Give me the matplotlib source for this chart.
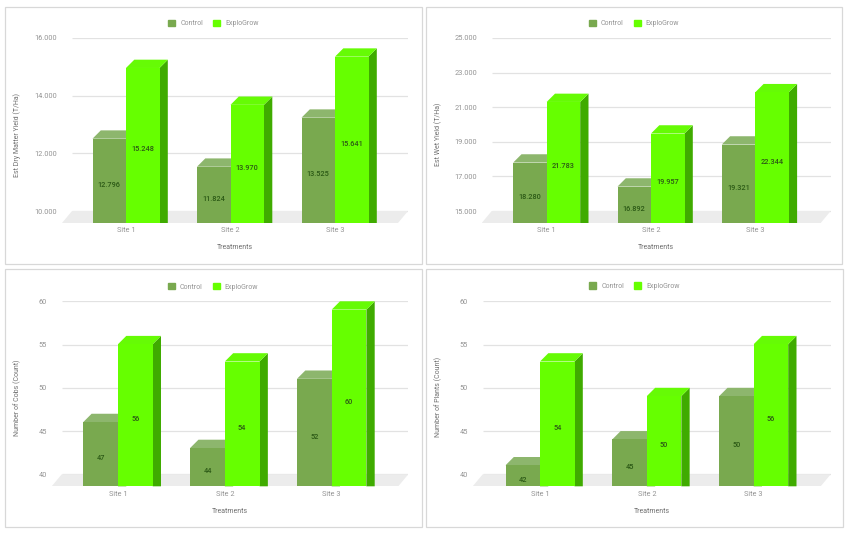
import matplotlib
matplotlib.use('Agg')
import matplotlib.pyplot as plt
from matplotlib.patches import Patch, Rectangle

plt.rcParams['font.family'] = ['Roboto', 'DejaVu Sans']

W, H = 850, 533

# Data
sites = ['Site 1', 'Site 2', 'Site 3']
series_names = ['Control', 'ExploGrow']

dry_control = [12796, 11824, 13525]
dry_explo = [15248, 13970, 15641]
dry_ticks = [10000, 12000, 14000, 16000]

wet_control = [18280, 16892, 19321]
wet_explo = [21783, 19957, 22344]
wet_ticks = [15000, 17000, 19000, 21000, 23000, 25000]

cobs_control = [47, 44, 52]
cobs_explo = [56, 54, 60]
plants_control = [42, 45, 50]
plants_explo = [54, 50, 56]
count_ticks = [40, 45, 50, 55, 60]

# Colours
c_control = '#79a94f'
c_control_top = '#8db66d'
c_explo = '#66ff00'
c_explo_top = '#66fb05'
c_explo_side = '#3fab00'
c_floor = '#ececec'
c_grid = '#e2e2e2'
c_border = '#d8d8d8'
c_tick = '#949494'
c_title = '#707070'
c_value = '#2c5a16'

# Size of the fake 3D effect, in pixels
BAR_DEPTH = 8.3
FLOOR_DX = 10
FLOOR_DY = 12


def fmt(v):
    return f'{v:,}'.replace(',', '.')


def draw_panel(box, floor_left, grid_right, tick_top, tick_bottom, centers, half,
               ylabel_x, ylabel_y, legend_xy, ylabel, control, explo, ticks):
    # all layout numbers are pixels of the final image, y going down
    floor_y = tick_bottom + FLOOR_DY
    fig.add_artist(Rectangle((box[0] / W, 1 - box[3] / H), (box[2] - box[0]) / W,
                             (box[3] - box[1]) / H, transform=fig.transFigure,
                             facecolor='white', edgecolor=c_border, linewidth=0.9, zorder=-1))

    ax = fig.add_axes([floor_left / W, 1 - floor_y / H, (grid_right - floor_left) / W,
                       (floor_y - tick_top) / H])

    spacing = (centers[2] - centers[0]) / 2
    px_y = (ticks[-1] - ticks[0]) / (tick_bottom - tick_top)
    dx = BAR_DEPTH / spacing
    dy = BAR_DEPTH * px_y
    bottom = ticks[0] - FLOOR_DY * px_y
    w = half / spacing

    ax.set_xlim((floor_left - centers[0]) / spacing, (grid_right - centers[0]) / spacing)
    ax.set_ylim(bottom, ticks[-1])

    # grid lines sit on the back wall, so they start after the floor offset
    grid_start = FLOOR_DX / (grid_right - floor_left)
    ax.hlines(ticks, grid_start, 1, transform=ax.get_yaxis_transform(),
              color=c_grid, linewidth=0.9, zorder=1)

    x0, x1 = ax.get_xlim()
    fdx = FLOOR_DX / spacing
    ax.fill([x0, x0 + fdx, x1, x1 - fdx], [bottom, ticks[0], ticks[0], bottom],
            color=c_floor, linewidth=0, zorder=2)

    z = 3
    for off, values, front, top in [(-w / 2, control, c_control, c_control_top),
                                    (w / 2, explo, c_explo, c_explo_top)]:
        for i, v in enumerate(values):
            left = i + off - w / 2
            right = i + off + w / 2
            # side face runs straight down to the front edge of the floor
            ax.fill([right, right + dx, right + dx, right],
                    [bottom, bottom, v, v - dy],
                    color=c_explo_side, linewidth=0, zorder=z, clip_on=False)
            ax.fill([left, left + dx, right + dx, right],
                    [v - dy, v, v, v - dy],
                    color=top, linewidth=0, zorder=z, clip_on=False)
        ax.bar([i + off for i in range(3)], [v - dy - bottom for v in values], width=w,
               bottom=bottom, color=front, linewidth=0, zorder=z + 1)
        for i, v in enumerate(values):
            mid = (v - dy + bottom) / 2 - 4 * px_y
            ax.text(i + off, mid, fmt(v), ha='center', va='center', fontsize=5.3,
                    color=c_value, fontweight='medium', zorder=8)
        z += 2

    ax.set_xticks(range(3), sites)
    ax.set_yticks(ticks, [fmt(t) for t in ticks])
    ax.tick_params(axis='both', length=0, labelsize=5.3, labelcolor=c_tick)
    ax.tick_params(axis='x', pad=3.2)
    ax.tick_params(axis='y', pad=3.3)
    for s in ax.spines.values():
        s.set_visible(False)
    ax.patch.set_visible(False)

    ax.set_xlabel('Treatments', fontsize=5.05, color=c_title, labelpad=7.2)
    ax.set_ylabel(ylabel, fontsize=5.05, color=c_title)
    ax.yaxis.set_label_coords((ylabel_x - floor_left) / (grid_right - floor_left),
                              (floor_y - ylabel_y) / (floor_y - tick_top))

    handles = [Patch(color=c_control, label=series_names[0]),
               Patch(color=c_explo, label=series_names[1])]
    ax.legend(handles=handles, ncol=2, loc='center',
              bbox_to_anchor=(legend_xy[0] / W, 1 - (legend_xy[1] + 0.5) / H),
              bbox_transform=fig.transFigure, frameon=False, fontsize=5.05,
              labelcolor=c_tick, handlelength=1.0, handleheight=1.0,
              handletextpad=0.75, columnspacing=1.4, borderpad=0, borderaxespad=0)


fig = plt.figure(figsize=(W / 100, H / 100), dpi=100)

draw_panel((5, 6.5, 422, 264), 62, 408, 38, 211, (126, 230.7, 335), 33.5,
           21.3, 135, (213.5, 23), 'Est Dry Matter Yield (T/Ha)',
           dry_control, dry_explo, dry_ticks)
draw_panel((426, 6.5, 842, 264), 481.7, 830.7, 38, 211, (546.7, 651, 755.3), 33.5,
           442, 134.7, (634, 23), 'Est Wet Yield (T/Ha)',
           wet_control, wet_explo, wet_ticks)
draw_panel((4.7, 269.3, 421.7, 527.3), 51.7, 408.3, 301.3, 474.3, (118, 225.3, 331.7), 34.7,
           21, 398, (213, 286.3), 'Number of Cobs (Count)',
           cobs_control, cobs_explo, count_ticks)
draw_panel((426, 269.3, 843.3, 527.3), 472.7, 830.7, 301.3, 474.3, (540, 647, 753.7), 34.5,
           442.3, 397.3, (634.7, 285.7), 'Number of Plants (Count)',
           plants_control, plants_explo, count_ticks)

plt.savefig('out.png', dpi=100)
